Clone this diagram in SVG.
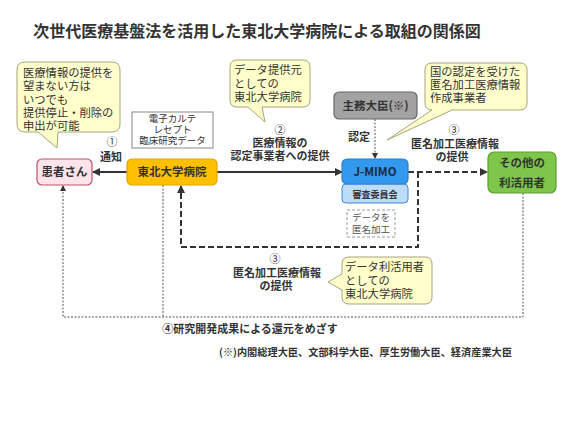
<svg xmlns="http://www.w3.org/2000/svg" width="568" height="426" viewBox="0 0 568 426">
<style>
text{font-family:"Noto Sans CJK JP","Noto Sans",sans-serif;fill:#333;}
.b{font-weight:bold;}
.call{fill:#FFFFCC;stroke:#A8A47A;stroke-width:1;}
.ct{font-size:11.3px;}
.lbl{font-size:11px;font-weight:bold;text-anchor:middle;}
.solid{stroke:#333;stroke-width:2.2;fill:none;}
.dash{stroke:#333;stroke-width:2;fill:none;stroke-dasharray:6,3;}
.thin{stroke:#555;stroke-width:1;fill:none;stroke-dasharray:2,1.5;}
.nt{font-size:11.5px;font-weight:bold;text-anchor:middle;}
</style>
<defs>
<marker id="ah" markerWidth="8" markerHeight="8" refX="7" refY="4" orient="auto" markerUnits="userSpaceOnUse">
<path d="M0,0 L8,4 L0,8 Z" fill="#333"/>
</marker>
<marker id="ahs" markerWidth="6" markerHeight="6" refX="5" refY="3" orient="auto" markerUnits="userSpaceOnUse">
<path d="M0,0 L6,3 L0,6 Z" fill="#333"/>
</marker>
</defs>
<rect width="568" height="426" fill="#fff"/>
<text x="257" y="37" class="b" font-size="16" text-anchor="middle">次世代医療基盤法を活用した東北大学病院による取組の関係図</text>

<g id="connectors">
<line class="solid" x1="127" y1="172" x2="93" y2="172" marker-end="url(#ah)"/>
<line class="solid" x1="217" y1="172" x2="342" y2="172" marker-end="url(#ah)"/>
<line class="dash" x1="408" y1="172" x2="487" y2="172" marker-end="url(#ah)"/>
<path class="dash" d="M418,172 V247 H181 V186" marker-end="url(#ah)"/>
<line class="thin" x1="375" y1="119" x2="375" y2="158" marker-end="url(#ahs)"/>
<path class="thin" d="M523,193 V317 H63 V186" marker-end="url(#ahs)"/>
<line class="thin" x1="163" y1="185" x2="163" y2="317"/>
</g>

<g id="callout-patient">
<path class="call" d="M25,62 H112 Q120,62 120,70 V124 Q120,132 112,132 H58 L57,148 L38,132 H25 Q17,132 17,124 V70 Q17,62 25,62 Z"/>
<text class="ct" x="23" y="77">医療情報の提供を<tspan x="23" dy="13.3">望まない方は</tspan><tspan x="23" dy="13.3">いつでも</tspan><tspan x="23" dy="13.3">提供停止・削除の</tspan><tspan x="23" dy="13.3">申出が可能</tspan></text>
</g>

<g id="callout-provider">
<path class="call" d="M237,60 H303 Q310,60 310,67 V100 Q310,107 303,107 H262 L265,122 L248,107 H237 Q230,107 230,100 V67 Q230,60 237,60 Z"/>
<text class="ct" x="234" y="74">データ提供元<tspan x="234" dy="13.5">としての</tspan><tspan x="234" dy="13.5">東北大学病院</tspan></text>
</g>

<g id="callout-jmimo">
<path class="call" d="M432,63 H520 Q527,63 527,70 V103 Q527,110 520,110 H452 L387,140 L432,110 Q425,110 425,103 V70 Q425,63 432,63 Z"/>
<text class="ct" x="430" y="76">国の認定を受けた<tspan x="430" dy="13">匿名加工医療情報</tspan><tspan x="430" dy="13">作成事業者</tspan></text>
</g>

<g id="callout-user">
<path class="call" d="M349,257 H425 Q432,257 432,264 V297 Q432,304 425,304 H349 Q342,304 342,297 V290 L328,282 L342,274 V264 Q342,257 349,257 Z"/>
<text class="ct" x="345" y="271">データ利活用者<tspan x="345" dy="13.5">としての</tspan><tspan x="345" dy="13.5">東北大学病院</tspan></text>
</g>

<g id="data-box">
<rect x="132" y="112" width="81" height="36" fill="#fff" stroke="#888" stroke-width="1"/>
<text x="172.5" y="122" font-size="9.5" text-anchor="middle">電子カルテ<tspan x="172.5" dy="11">レセプト</tspan><tspan x="172.5" dy="11">臨床研究データ</tspan></text>
</g>

<g id="patient">
<rect x="37" y="159" width="55" height="26" rx="5" fill="#FCE4EA" stroke="#C0506A" stroke-width="1.2"/>
<text class="nt" x="64.5" y="176">患者さん</text>
</g>

<g id="hospital">
<rect x="127" y="159" width="90" height="26" rx="5" fill="#FFC000" stroke="#E0A500" stroke-width="1.2"/>
<text class="nt" x="172" y="176">東北大学病院</text>
</g>

<g id="minister">
<rect x="334" y="92" width="83" height="27" rx="5" fill="#A3A3A3" stroke="#666" stroke-width="1.2"/>
<text class="nt" x="375.5" y="110">主務大臣(※)</text>
</g>

<g id="jmimo">
<rect x="342" y="184" width="66" height="19" rx="4" fill="#BDDCFA" stroke="#3C8BD8" stroke-width="1"/>
<text x="375" y="197.5" font-size="9" class="b" text-anchor="middle">審査委員会</text>
<rect x="342" y="159" width="66" height="25" rx="5" fill="#3399EE" stroke="#2A7FD0" stroke-width="1.2"/>
<text class="nt" x="375" y="176" style="fill:#1B2B44">J-MIMO</text>
</g>

<g id="anon-box">
<rect x="347" y="210" width="48" height="27" fill="#fff" stroke="#999" stroke-width="1" stroke-dasharray="3,2"/>
<text x="371" y="221" font-size="9.5" text-anchor="middle" style="fill:#555">データを<tspan x="371" dy="12">匿名加工</tspan></text>
</g>

<g id="other-users">
<rect x="488" y="152" width="68" height="41" rx="6" fill="#7DC64A" stroke="#5A9E32" stroke-width="1.2"/>
<text class="nt" x="522" y="167">その他の<tspan x="522" dy="20">利活用者</tspan></text>
</g>

<g id="labels">
<text x="112" y="146" font-size="11" text-anchor="middle">①<tspan class="b" x="111" dy="15">通知</tspan></text>
<text x="280" y="134" font-size="11" text-anchor="middle">②<tspan class="b" x="280" dy="13">医療情報の</tspan><tspan class="b" x="280" dy="13">認定事業者への提供</tspan></text>
<text class="lbl" x="359" y="141">認定</text>
<text x="454" y="134" font-size="11" text-anchor="middle">③<tspan class="b" x="455" dy="14">匿名加工医療情報</tspan><tspan class="b" x="452" dy="13">の提供</tspan></text>
<text x="275" y="263" font-size="11" text-anchor="middle">③<tspan class="b" x="277" dy="14">匿名加工医療情報</tspan><tspan class="b" x="276" dy="13">の提供</tspan></text>
<text class="lbl" x="250" y="333">④研究開発成果による還元をめざす</text>
<text x="512" y="356" font-size="10.2" class="b" text-anchor="end">(※)内閣総理大臣、文部科学大臣、厚生労働大臣、経済産業大臣</text>
</g>
</svg>
